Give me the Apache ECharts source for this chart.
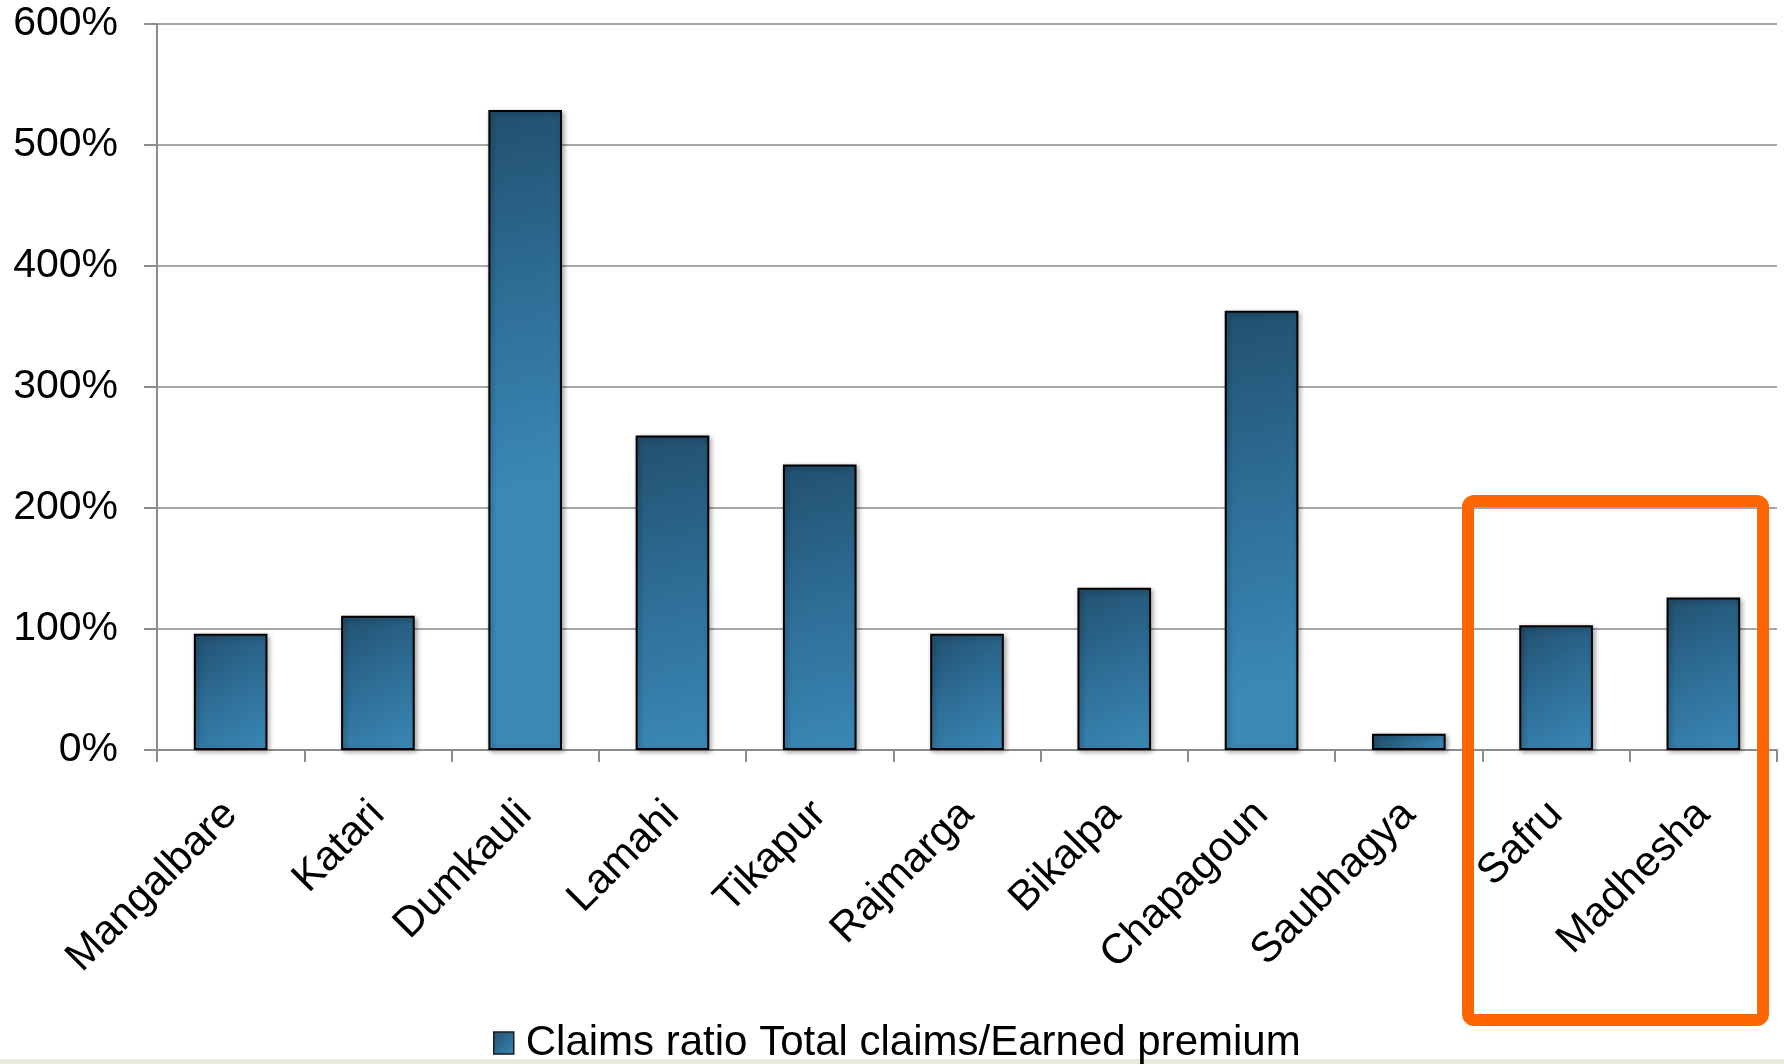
<!DOCTYPE html>
<html>
<head>
<meta charset="utf-8">
<title>Claims ratio by cooperative</title>
<script src="https://cdn.jsdelivr.net/npm/echarts@6/dist/echarts.min.js"></script>
<style>
  html, body { margin: 0; padding: 0; background: #ffffff; }
  #chart { width: 1784px; height: 1064px; }
</style>
</head>
<body>
<div id="chart"></div>
<script>
// Cooperatives along the x axis
const categories = ['Mangalbare', 'Katari', 'Dumkauli', 'Lamahi', 'Tikapur', 'Rajmarga',
  'Bikalpa', 'Chapagoun', 'Saubhagya', 'Safru', 'Madhesha'];

// Claims ratio (total claims / earned premium), in percent
const claimsRatio = [96, 111, 529, 260, 236, 96, 134, 363, 13.5, 103, 126];

const seriesName = 'Claims ratio Total claims/Earned premium';

// Value axis range
const yMin = 0;
const yMax = 600;
const yStep = 100;

const FONT = '"Liberation Sans", Arial, Helvetica, sans-serif';

const GRID = { left: 157, right: 7, top: 24, bottom: 314 };
const PLOT_W = 1784 - GRID.left - GRID.right;
const PLOT_H = 1064 - GRID.top - GRID.bottom;
const BAR_W = PLOT_W / categories.length * 0.5;

// Diagonal shading from the top-left corner; on tall bars the gradient is
// stretched less than the full height so the left edge stays darker.
function barFill(value) {
  const h = Math.max(1, value / (yMax - yMin) * PLOT_H);
  const y2 = Math.min(1, 5 * BAR_W / h);
  return new echarts.graphic.LinearGradient(0, 0, 1, y2, [
    { offset: 0, color: '#22506f' },
    { offset: 0.5, color: '#2e6e97' },
    { offset: 1, color: '#3a88b6' }
  ]);
}

const legendFill = new echarts.graphic.LinearGradient(0, 0, 1, 1, [
  { offset: 0, color: '#22506f' },
  { offset: 1, color: '#3a88b6' }
]);

const chart = echarts.init(document.getElementById('chart'), null, { renderer: 'canvas' });

chart.setOption({
  animation: false,
  backgroundColor: '#ffffff',
  grid: { left: GRID.left, right: GRID.right, top: GRID.top, bottom: GRID.bottom, containLabel: false },
  legend: {
    left: 493,
    top: 1022,
    padding: 0,
    icon: 'rect',
    itemWidth: 20,
    itemHeight: 22,
    data: [seriesName],
    itemStyle: { color: legendFill, borderColor: '#1a1a1a', borderWidth: 1.5 },
    textStyle: { color: '#000000', fontSize: 42, fontFamily: FONT, padding: [0, 0, 0, 7] }
  },
  xAxis: {
    type: 'category',
    data: categories,
    boundaryGap: true,
    axisLine: { show: true, lineStyle: { color: '#8c8c8c', width: 2 } },
    axisTick: { show: true, alignWithLabel: false, length: 12, lineStyle: { color: '#8c8c8c', width: 2 } },
    axisLabel: {
      rotate: 45,
      interval: 0,
      margin: 58,
      color: '#000000',
      fontSize: 42,
      fontFamily: FONT
    },
    splitLine: { show: false }
  },
  yAxis: {
    type: 'value',
    min: yMin,
    max: yMax,
    interval: yStep,
    axisLine: { show: true, lineStyle: { color: '#8c8c8c', width: 2 } },
    axisTick: { show: true, inside: false, length: 13, lineStyle: { color: '#8c8c8c', width: 2 } },
    axisLabel: {
      formatter: '{value}%',
      margin: 39,
      color: '#000000',
      fontSize: 41,
      fontFamily: FONT
    },
    splitLine: { show: true, lineStyle: { color: '#a6a6a6', width: 2 } }
  },
  series: [{
    name: seriesName,
    type: 'bar',
    data: claimsRatio,
    barWidth: '50%',
    itemStyle: {
      color: (p) => barFill(p.value),
      borderColor: '#000000',
      borderWidth: 2,
      shadowColor: 'rgba(0,0,0,0.35)',
      shadowBlur: 5,
      shadowOffsetX: 2,
      shadowOffsetY: 2
    }
  }],
  graphic: [
    {
      // highlight frame around the last two cooperatives
      type: 'rect',
      z: 100,
      shape: { x: 1468, y: 501, width: 295, height: 519, r: 6 },
      style: { fill: 'none', stroke: '#ff6600', lineWidth: 12 }
    },
    {
      type: 'rect',
      z: 0,
      shape: { x: 0, y: 1059, width: 1784, height: 5 },
      style: { fill: '#e8ebd8' }
    }
  ]
});
</script>
</body>
</html>
